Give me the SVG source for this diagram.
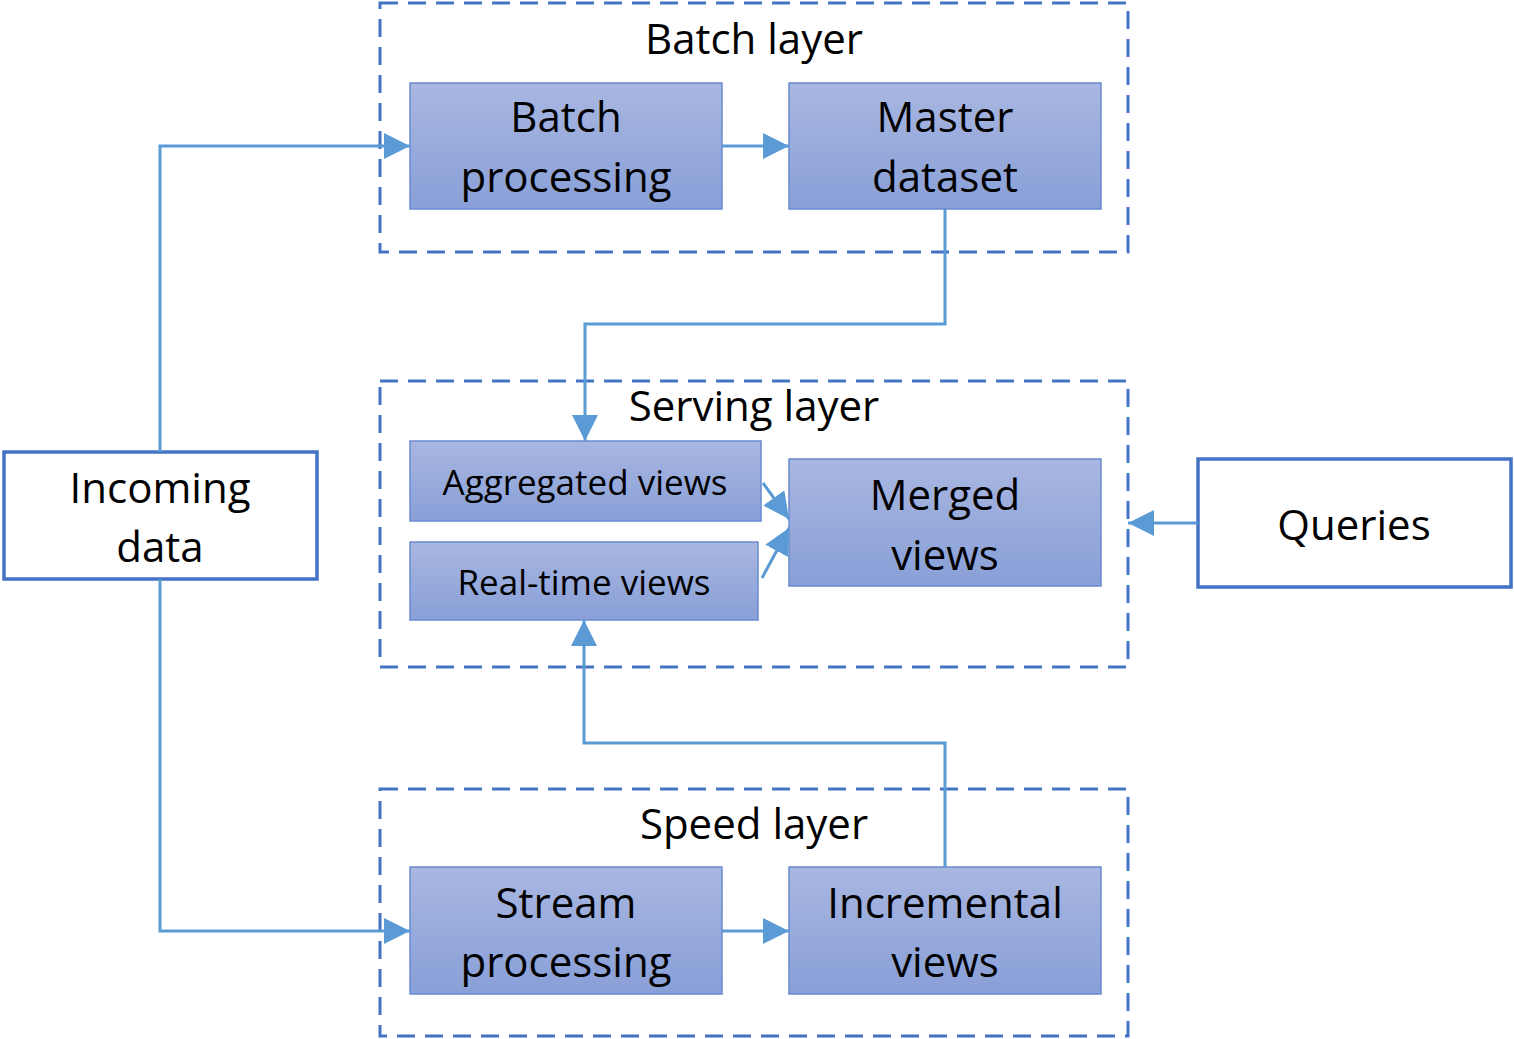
<svg xmlns="http://www.w3.org/2000/svg" width="1514" height="1039" viewBox="0 0 1514 1039">
<defs>
<linearGradient id="g" x1="0" y1="0" x2="0" y2="1">
<stop offset="0" stop-color="#A9B7E1"/>
<stop offset="1" stop-color="#889FD7"/>
</linearGradient>
<marker id="ah" viewBox="0 0 10 10" refX="10" refY="5" markerWidth="26" markerHeight="26" markerUnits="userSpaceOnUse" orient="auto">
<path d="M0,0 L10,5 L0,10 z" fill="#5B9BD5"/>
</marker>
<style>
.layer{fill:none;stroke:#4472C4;stroke-width:3;stroke-dasharray:18,10}
.proc{fill:url(#g);stroke:#6A8BD0;stroke-width:1.5}
.ext{fill:#fff;stroke:#4472C4;stroke-width:3.5}
.t{font-family:"Open Sans","Noto Sans",sans-serif;font-size:42px;fill:#000;text-anchor:middle}
.s{font-size:35px}
.c{fill:none;stroke:#5B9BD5;stroke-width:3;marker-end:url(#ah)}
</style>
</defs>
<rect width="1514" height="1039" fill="#fff"/>
<g id="batch-layer">
<rect class="layer" x="380" y="3" width="748" height="249"/>
<text class="t" x="754" y="54">Batch layer</text>
</g>
<g id="serving-layer">
<rect class="layer" x="380" y="381" width="748" height="286"/>
<text class="t" x="754" y="421">Serving layer</text>
</g>
<g id="speed-layer">
<rect class="layer" x="380" y="789" width="748" height="247"/>
<text class="t" x="754" y="839">Speed layer</text>
</g>
<g id="batch-processing">
<rect class="proc" x="410" y="83" width="312" height="126"/>
<text class="t" x="566" y="132">Batch</text>
<text class="t" x="566" y="192">processing</text>
</g>
<g id="master-dataset">
<rect class="proc" x="789" y="83" width="312" height="126"/>
<text class="t" x="945" y="132">Master</text>
<text class="t" x="945" y="192">dataset</text>
</g>
<g id="aggregated-views">
<rect class="proc" x="410" y="441" width="351" height="80"/>
<text class="t s" x="585" y="495">Aggregated views</text>
</g>
<g id="real-time-views">
<rect class="proc" x="410" y="542" width="348" height="78"/>
<text class="t s" x="584" y="595">Real-time views</text>
</g>
<g id="merged-views">
<rect class="proc" x="789" y="459" width="312" height="127"/>
<text class="t" x="945" y="510">Merged</text>
<text class="t" x="945" y="570">views</text>
</g>
<g id="stream-processing">
<rect class="proc" x="410" y="867" width="312" height="127"/>
<text class="t" x="566" y="918">Stream</text>
<text class="t" x="566" y="977">processing</text>
</g>
<g id="incremental-views">
<rect class="proc" x="789" y="867" width="312" height="127"/>
<text class="t" x="945" y="918">Incremental</text>
<text class="t" x="945" y="977">views</text>
</g>
<g id="incoming-data">
<rect class="ext" x="4" y="452" width="313" height="127"/>
<text class="t" x="160" y="503">Incoming</text>
<text class="t" x="160" y="562">data</text>
</g>
<g id="queries">
<rect class="ext" x="1198" y="459" width="313" height="128"/>
<text class="t" x="1354" y="540">Queries</text>
</g>
<g id="connectors">
<path class="c" d="M160,452 V146 H410"/>
<path class="c" d="M160,579 V931 H410"/>
<path class="c" d="M722,146 H789"/>
<path class="c" d="M722,931 H789"/>
<path class="c" d="M945,209 V324 H585 V441"/>
<path class="c" d="M945,867 V743 H584 V620"/>
<path class="c" d="M1198,523 H1128"/>
<path class="c" d="M763,483 L789,519"/>
<path class="c" d="M762,578 L789,528"/>
</g>
</svg>
